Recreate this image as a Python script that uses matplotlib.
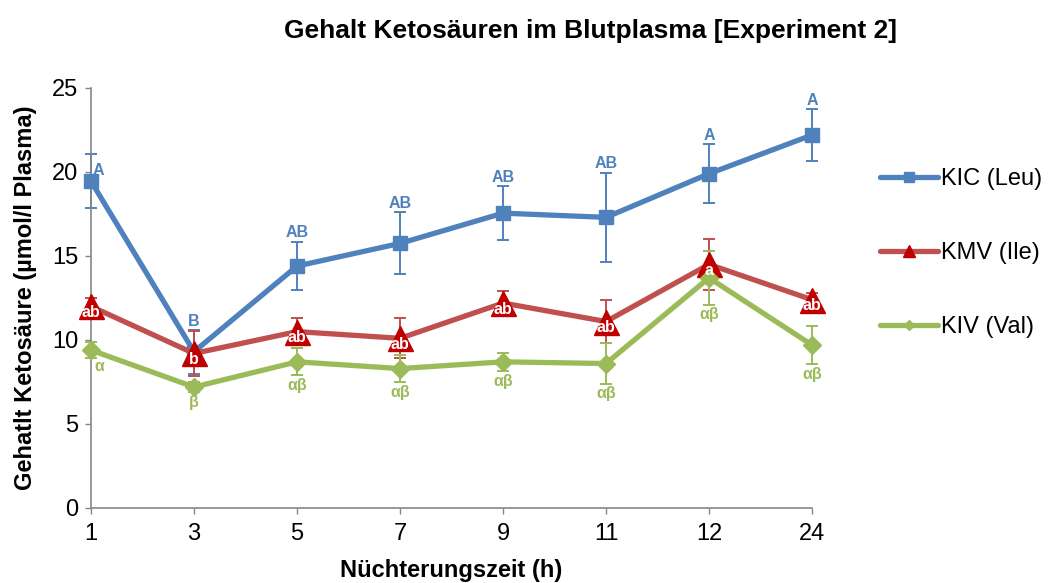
import matplotlib
matplotlib.use("Agg")
import matplotlib.pyplot as plt
from matplotlib.lines import Line2D

plt.rcParams['font.family'] = ['Liberation Sans', 'DejaVu Sans']

categories = ["1", "3", "5", "7", "9", "11", "12", "24"]
kic = [19.45, 9.3, 14.4, 15.75, 17.55, 17.3, 19.9, 22.2]
kic_err = [1.6, 1.3, 1.45, 1.85, 1.6, 2.65, 1.75, 1.55]
kic_lbl = ["A", "B", "AB", "AB", "AB", "AB", "A", "A"]
kmv = [12.0, 9.2, 10.5, 10.1, 12.2, 11.1, 14.5, 12.4]
kmv_err = [0.5, 1.35, 0.8, 1.2, 0.7, 1.3, 1.5, 0.4]
kmv_lbl = ["ab", "b", "ab", "ab", "ab", "ab", "a", "ab"]
kiv = [9.4, 7.2, 8.7, 8.3, 8.7, 8.6, 13.7, 9.7]
kiv_err = [0.5, 0.3, 0.8, 0.8, 0.55, 1.2, 1.6, 1.15]
kiv_lbl = ["α", "β", "αβ", "αβ", "αβ", "αβ", "αβ", "αβ"]

c_kic = "#4F81BD"
c_kmv = "#C0504D"
c_kmv_m = "#C00000"
c_kiv = "#9BBB59"

fig = plt.figure(figsize=(10.48, 5.83), dpi=100)
ax = fig.add_axes([91/1048, 1-508/583, (812-91)/1048, (508-88)/583])
x = list(range(len(categories)))

def series(vals, errs, color, mcolor, marker, ms):
    eb = ax.errorbar(x, vals, yerr=errs, fmt='none', ecolor=color, elinewidth=1.4,
                     capsize=4.5, capthick=1.4, zorder=2)
    for art in eb.lines[1] + eb.lines[2]:
        art.set_clip_on(False)
    ax.plot(x, vals, color=color, lw=3.8, marker=marker, ms=ms, mfc=mcolor,
            mec=mcolor, zorder=3, solid_capstyle='round', clip_on=False)

series(kic, kic_err, c_kic, c_kic, 's', 10)
series(kmv, kmv_err, c_kmv, c_kmv_m, '^', 18)
series(kiv, kiv_err, c_kiv, c_kiv, 'D', 9)

for i in x:
    if i == 0:
        ax.text(i + 0.07, kic[i] + 0.65, kic_lbl[i], ha='center', va='center',
                color=c_kic, fontsize=11.5, fontweight='bold', zorder=5)
        ax.text(i + 0.08, kiv[i] - kiv_err[i] - 0.5, kiv_lbl[i], ha='center',
                va='center', color=c_kiv, fontsize=11.5, fontweight='bold', zorder=5)
    else:
        ax.annotate(kic_lbl[i], (i, kic[i] + kic_err[i]), xytext=(0, 1),
                    textcoords='offset points', ha='center', va='bottom',
                    color=c_kic, fontsize=11.5, fontweight='bold', zorder=5)
        ax.annotate(kiv_lbl[i], (i, kiv[i] - kiv_err[i]), xytext=(0, -2),
                    textcoords='offset points', ha='center', va='top',
                    color=c_kiv, fontsize=11.5, fontweight='bold', zorder=5)
    ax.annotate(kmv_lbl[i], (i, kmv[i]), xytext=(0, -4.5),
                textcoords='offset points', ha='center', va='center',
                color='white', fontsize=11.5, fontweight='bold', zorder=5,
                annotation_clip=False)

ax.set_xlim(0, len(categories) - 1)
ax.set_ylim(0, 25)
ax.set_xticks(x)
ax.set_xticklabels(categories)
ax.set_yticks([0, 5, 10, 15, 20, 25])
ax.tick_params(axis='both', labelsize=17, direction='out', length=4,
               color='#868686', width=1)
ax.tick_params(axis='x', pad=7)
ax.tick_params(axis='y', pad=5)
for s in ['top', 'right']:
    ax.spines[s].set_visible(False)
for s in ['left', 'bottom']:
    ax.spines[s].set_color('#868686')
    ax.spines[s].set_linewidth(1.2)
ax.set_xlabel("Nüchterungszeit (h)", fontsize=17, fontweight='bold', labelpad=10)
ax.set_ylabel("Gehatlt Ketosäure (µmol/l Plasma)", fontsize=17,
              fontweight='bold', labelpad=11)
fig.text(590/1048, 1-31/583, "Gehalt Ketosäuren im Blutplasma [Experiment 2]",
         ha='center', va='center', fontsize=19, fontweight='bold')

handles = [
    Line2D([], [], color=c_kic, lw=3.8, marker='s', ms=7, mfc=c_kic, mec=c_kic,
           solid_capstyle='round'),
    Line2D([], [], color=c_kmv, lw=3.8, marker='^', ms=8, mfc=c_kmv_m,
           mec=c_kmv_m, solid_capstyle='round'),
    Line2D([], [], color=c_kiv, lw=3.8, marker='D', ms=5, mfc=c_kiv, mec=c_kiv,
           solid_capstyle='round'),
]
labels = ["KIC (Leu)", "KMV (Ile)", "KIV (Val)"]
fig.legend(handles, labels, loc='upper left',
           bbox_to_anchor=(880/1048, 1-168/583), borderaxespad=0,
           frameon=False, fontsize=17, labelspacing=2.2,
           handlelength=2.45, handletextpad=0.12, borderpad=0)

fig.savefig("out.png", dpi=100)
